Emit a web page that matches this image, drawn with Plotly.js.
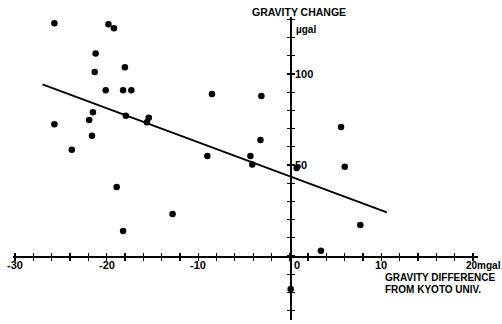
<!DOCTYPE html>
<html>
<head>
<meta charset="utf-8">
<script src="https://cdn.plot.ly/plotly-3.0.1.min.js"></script>
<style>html,body{margin:0;padding:0;background:#fff;}#chart{width:502px;height:324px;}</style>
</head>
<body>
<div id="chart"></div>
<script>
// Gravity difference from Kyoto Univ. (mgal) and gravity change (µgal)
const gravDiff = [-25.7, -19.8, -19.2, -21.2, -21.3, -18.0, -20.1, -18.2, -17.3, -21.5,
                  -21.9, -25.7, -21.6, -23.8, -17.9, -15.4, -15.6, -18.9, -18.2, -12.8,
                  -8.5, -3.1, -3.2, -9.0, -4.3, -4.1, 0.75, 5.6, 6.0, 7.7, 3.4, 0.1];
const gravChange = [127.9, 127.3, 125.1, 111.2, 101.1, 103.7, 91.0, 91.0, 91.0, 79.0,
                    74.7, 72.4, 66.0, 58.4, 77.1, 76.0, 73.5, 37.9, 13.7, 23.1,
                    89.0, 87.9, 63.7, 54.9, 54.9, 50.2, 48.4, 70.9, 49.1, 17.0, 2.9, -18.1];
// Fitted regression line end points
const fitX = [-27.0, 10.6];
const fitY = [94.3, 24.0];
// Tick labels
const xLabelVals = [-30, -20, -10, 0, 10, 20];
const xLabelText = ['-30', '-20', '-10', '0', '10', '20mgal'];
const yLabelVals = [50, 100];
const yLabelText = ['50', '100'];
const yUnit = 'µgal';
const yTitle = 'GRAVITY CHANGE';
const xTitle1 = 'GRAVITY DIFFERENCE';
const xTitle2 = 'FROM KYOTO UNIV.';

const W = 502, H = 324;
const fnt = {family: 'Liberation Sans, Arial, sans-serif', size: 11, color: '#000', weight: 'bold'};

const xr = [-30.22, 20.55], yr = [-35.16, 131.3];
const xdom = [13 / W, 478 / W], ydom = [1 - 320 / H, 1 - 17 / H];
const xPos = 1 - 256 / H, yPos = 290 / W;

const axBase = {showgrid: false, zeroline: false, showticklabels: false, fixedrange: true,
                tickcolor: '#000', tickwidth: 1.3, ticklen: 3, tickmode: 'linear'};

const traces = [
  {x: fitX, y: fitY, mode: 'lines', line: {color: '#000', width: 1.8}, hoverinfo: 'skip'},
  {x: gravDiff, y: gravChange, mode: 'markers', cliponaxis: false,
   marker: {color: '#000', size: 6.5}},
  {x: [], y: [], xaxis: 'x2', yaxis: 'y2', mode: 'markers'}
];

const ann = [];
xLabelVals.forEach((v, i) => {
  const t = xLabelText[i];
  let xa = 'center', xs = 0, f = fnt;
  if (v === 0) { xs = 7; }
  if (t.length > 3) { xa = 'left'; xs = -9; f = Object.assign({}, fnt, {size: 10}); }
  ann.push({x: v, y: 0, xref: 'x', yref: 'y', text: t, showarrow: false, xanchor: xa, yanchor: 'middle',
            xshift: xs, yshift: -9, font: f});
});
yLabelVals.forEach((v, i) => {
  ann.push({x: 0, y: v, xref: 'x', yref: 'y', text: yLabelText[i], showarrow: false, xanchor: 'left',
            yanchor: 'middle', xshift: 3, font: fnt});
});
ann.push({x: 0, y: 124.5, xref: 'x', yref: 'y', text: yUnit, showarrow: false, xanchor: 'left',
          yanchor: 'middle', xshift: 4, font: Object.assign({}, fnt, {size: 10})});
ann.push({x: 250 / W, y: 1 - 12 / H, xref: 'paper', yref: 'paper', text: yTitle, showarrow: false,
          xanchor: 'left', yanchor: 'middle', font: Object.assign({}, fnt, {size: 10.5})});
ann.push({x: 383 / W, y: 1 - 277 / H, xref: 'paper', yref: 'paper', text: xTitle1, showarrow: false,
          xanchor: 'left', yanchor: 'middle', font: Object.assign({}, fnt, {size: 10})});
ann.push({x: 383 / W, y: 1 - 289 / H, xref: 'paper', yref: 'paper', text: xTitle2, showarrow: false,
          xanchor: 'left', yanchor: 'middle', font: Object.assign({}, fnt, {size: 10})});

const layout = {
  width: W, height: H, margin: {l: 0, r: 0, t: 0, b: 0, pad: 0},
  paper_bgcolor: '#fff', plot_bgcolor: '#fff', showlegend: false,
  xaxis: Object.assign({}, axBase, {domain: xdom, range: xr, anchor: 'free', position: xPos,
          showline: true, linecolor: '#000', linewidth: 1.6, ticks: 'outside', tick0: -30, dtick: 2}),
  yaxis: Object.assign({}, axBase, {domain: ydom, range: yr, anchor: 'free', position: yPos, side: 'right',
          showline: true, linecolor: '#000', linewidth: 1.6, ticks: 'outside', tick0: -30, dtick: 10}),
  xaxis2: Object.assign({}, axBase, {domain: xdom, range: xr, anchor: 'free', position: xPos, overlaying: 'x',
          showline: false, ticks: 'inside', tick0: -30, dtick: 2}),
  yaxis2: Object.assign({}, axBase, {domain: ydom, range: yr, anchor: 'free', position: yPos, overlaying: 'y',
          side: 'right', showline: false, ticks: 'inside', tick0: -30, dtick: 10}),
  annotations: ann
};

Plotly.newPlot('chart', traces, layout, {staticPlot: true, displayModeBar: false});
</script>
</body>
</html>
